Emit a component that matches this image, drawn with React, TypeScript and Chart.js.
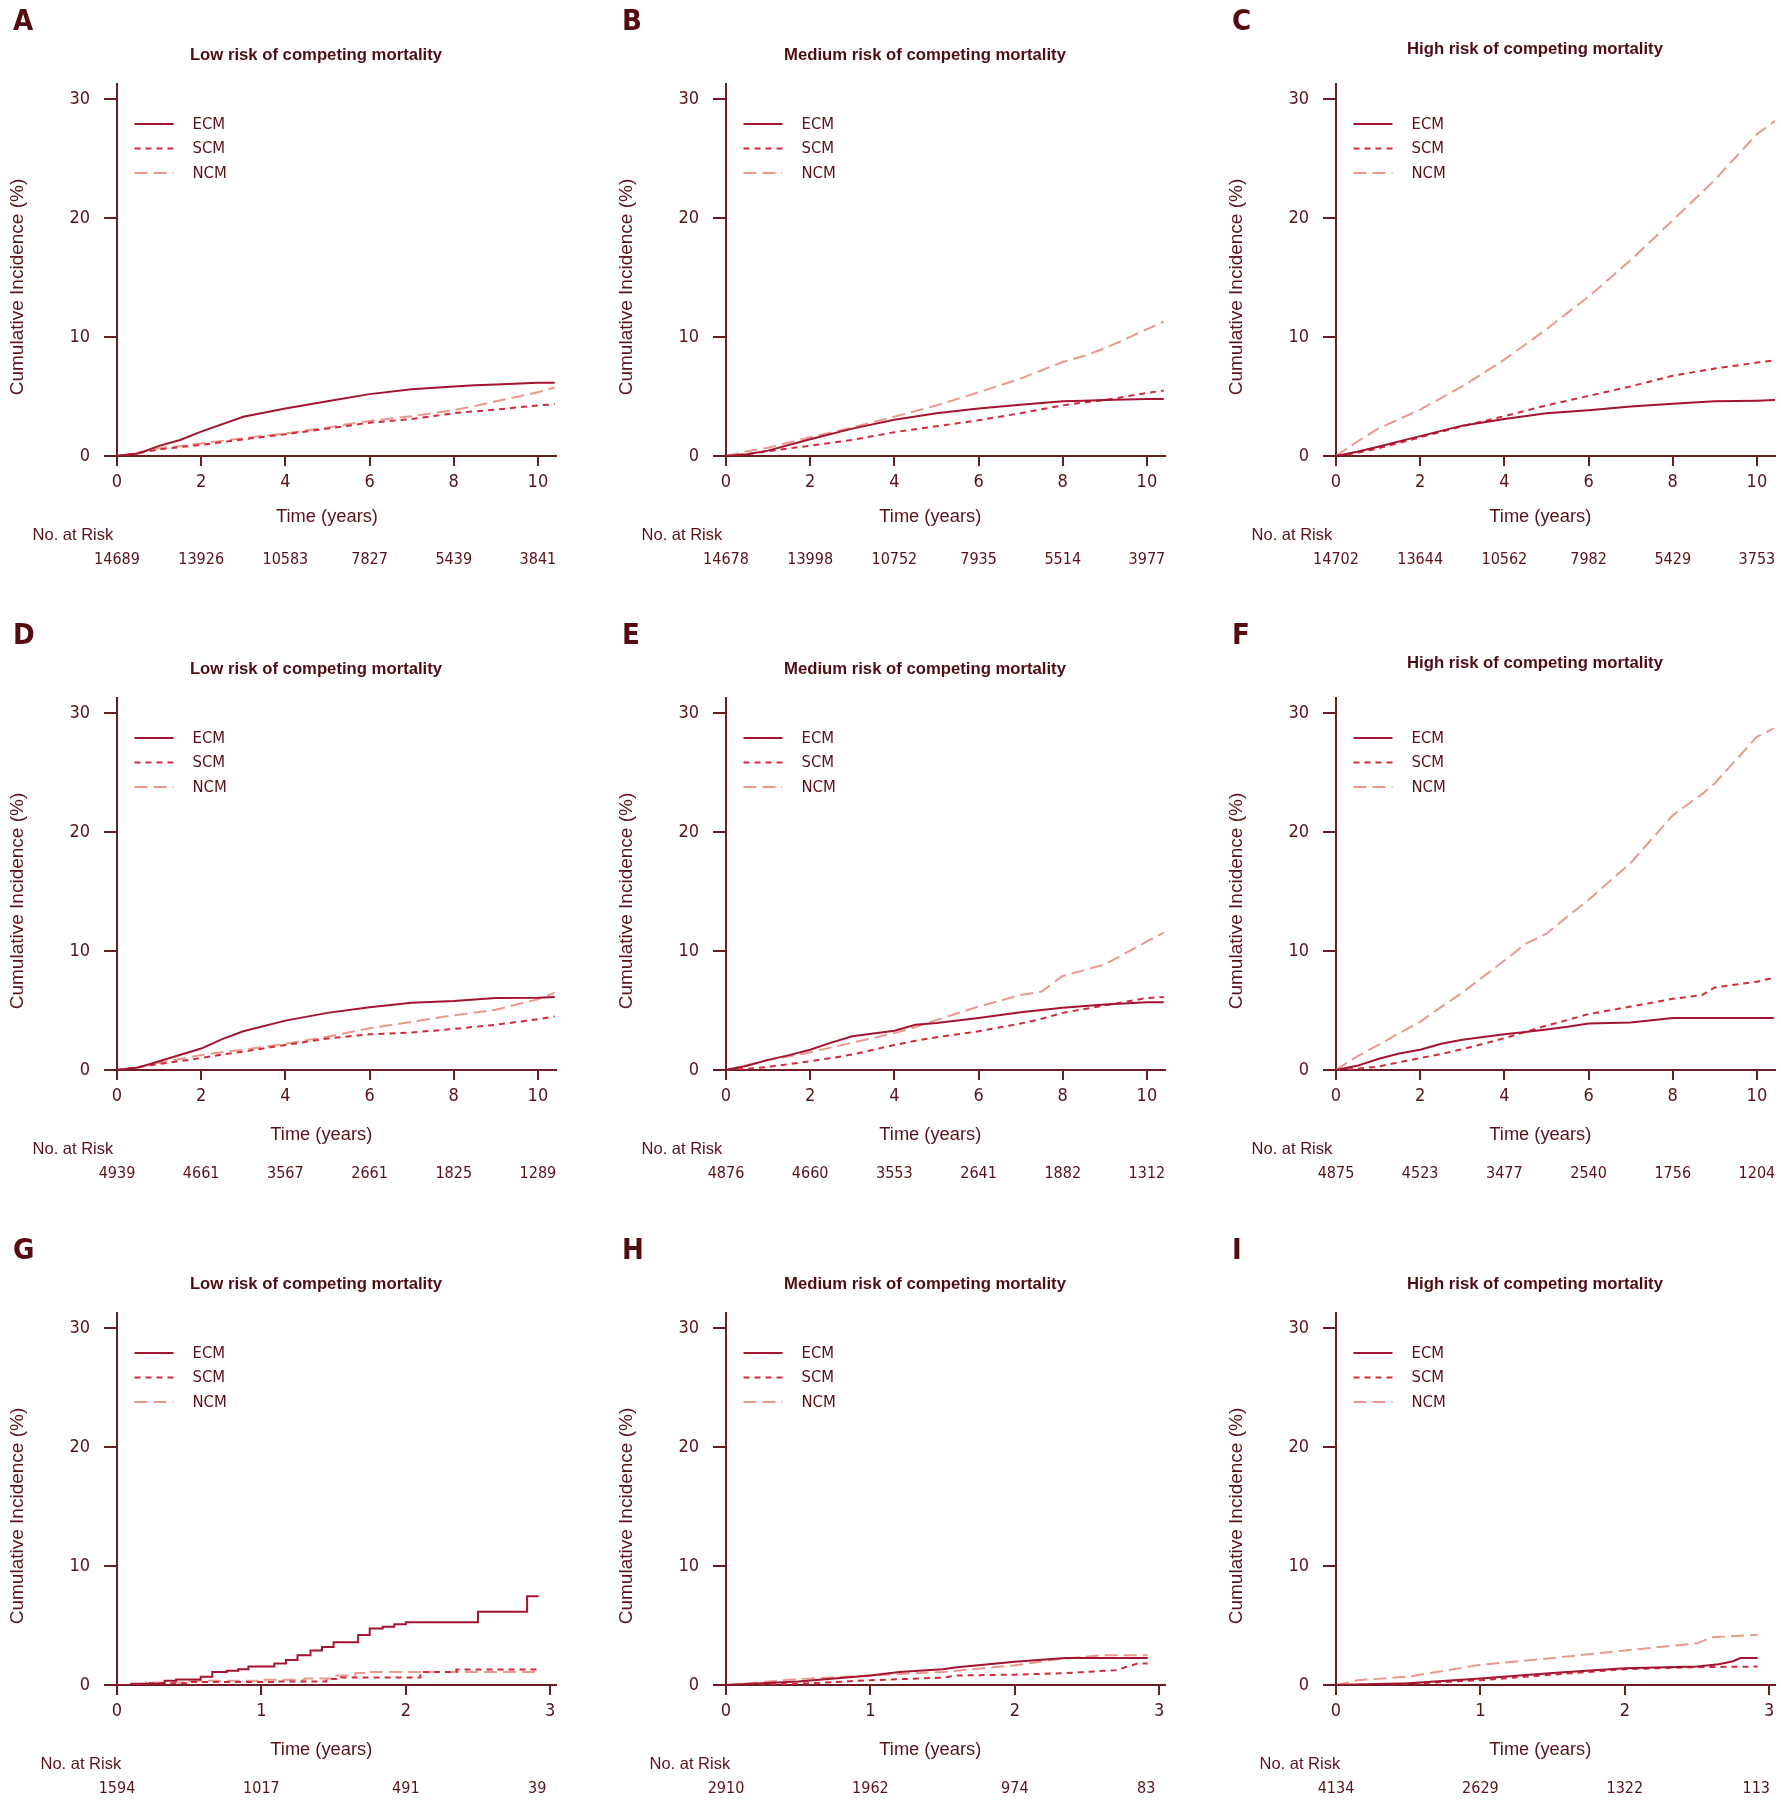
import React, { useEffect, useRef } from "react";
import { Chart, registerables } from "chart.js";

Chart.register(...registerables);

const NARROW = "'Liberation Sans Narrow', 'DejaVu Sans Condensed', 'Liberation Sans', sans-serif";
const SANS = "'Liberation Sans', Arial, sans-serif";
const TEXT = "#5a1117";
const AXIS = "#6b1d22";
const C_ECM = "#a3142e";
const C_SCM = "#d32a3a";
const C_NCM = "#e99a8c";

const SERIES_NAMES = ["ECM", "SCM", "NCM"];
const PANEL_LETTERS = ["A", "B", "C", "D", "E", "F", "G", "H", "I"];
const PANEL_TITLES = ["Low risk of competing mortality", "Medium risk of competing mortality", "High risk of competing mortality"];

const RISK_TIMES_10Y = [0, 2, 4, 6, 8, 10];
const RISK_TIMES_3Y = [0, 1, 2, 2.91];

// Panel A
const A_T = [0, 0.5, 1, 1.5, 2, 3, 4, 5, 6, 7, 8, 8.5, 9, 10, 10.4];
const A_ECM = [0, 0.2, 0.85, 1.35, 2.05, 3.3, 4.0, 4.6, 5.2, 5.6, 5.85, 5.95, 6.0, 6.15, 6.15];
const A_SCM = [0, 0.25, 0.55, 0.75, 0.93, 1.4, 1.83, 2.3, 2.8, 3.1, 3.6, 3.75, 3.9, 4.25, 4.35];
const A_NCM = [0, 0.3, 0.65, 0.85, 1.05, 1.5, 1.9, 2.4, 2.95, 3.35, 3.85, 4.2, 4.6, 5.35, 5.75];
const A_RISK = [14689, 13926, 10583, 7827, 5439, 3841];

// Panel B
const B_T = [0, 0.5, 1, 2, 3, 4, 5, 6, 7, 8, 8.5, 9, 10, 10.4];
const B_ECM = [0, 0.15, 0.45, 1.4, 2.3, 3.05, 3.6, 4.0, 4.3, 4.6, 4.65, 4.7, 4.8, 4.8];
const B_SCM = [0, 0.15, 0.4, 0.87, 1.35, 2.0, 2.5, 3.0, 3.6, 4.25, 4.5, 4.7, 5.3, 5.5];
const B_NCM = [0, 0.4, 0.7, 1.57, 2.4, 3.3, 4.25, 5.35, 6.5, 7.9, 8.4, 9.05, 10.65, 11.3];
const B_RISK = [14678, 13998, 10752, 7935, 5514, 3977];

// Panel C
const C_T = [0, 0.5, 1, 2, 3, 4, 5, 6, 7, 8, 9, 10, 10.45];
const C_ECM_V = [0, 0.35, 0.77, 1.67, 2.55, 3.1, 3.6, 3.85, 4.15, 4.4, 4.6, 4.65, 4.7];
const C_SCM_V = [0, 0.25, 0.64, 1.57, 2.5, 3.35, 4.25, 5.05, 5.85, 6.75, 7.35, 7.85, 8.05];
const C_NCM_V = [0, 1.2, 2.3, 3.9, 5.85, 8.1, 10.65, 13.4, 16.45, 19.8, 23.2, 27.05, 28.2];
const C_RISK = [14702, 13644, 10562, 7982, 5429, 3753];

// Panel D
const D_T = [0, 0.5, 1, 2, 2.5, 3, 4, 5, 6, 7, 8, 9, 10, 10.4];
const D_ECM = [0, 0.2, 0.74, 1.8, 2.6, 3.25, 4.15, 4.8, 5.27, 5.65, 5.8, 6.05, 6.07, 6.13];
const D_SCM = [0, 0.25, 0.5, 1.0, 1.3, 1.55, 2.1, 2.65, 3.0, 3.15, 3.45, 3.8, 4.27, 4.5];
const D_NCM = [0, 0.25, 0.6, 1.25, 1.5, 1.7, 2.2, 2.8, 3.5, 4.05, 4.6, 5.07, 5.95, 6.5];
const D_RISK = [4939, 4661, 3567, 2661, 1825, 1289];

// Panel E
const E_T = [0, 0.5, 1, 1.5, 2, 2.5, 3, 4, 4.5, 5, 6, 7, 7.5, 8, 9, 10, 10.4];
const E_ECM = [0, 0.35, 0.85, 1.25, 1.7, 2.3, 2.83, 3.3, 3.8, 3.95, 4.37, 4.85, 5.05, 5.24, 5.5, 5.7, 5.7];
const E_SCM = [0, 0.1, 0.26, 0.5, 0.74, 1.0, 1.3, 2.1, 2.45, 2.76, 3.25, 3.9, 4.3, 4.8, 5.43, 6.05, 6.13];
const E_NCM = [0, 0.42, 0.83, 1.15, 1.48, 1.9, 2.3, 3.1, 3.6, 4.2, 5.33, 6.3, 6.6, 7.9, 8.87, 10.8, 11.55];
const E_RISK = [4876, 4660, 3553, 2641, 1882, 1312];

// Panel F
const F_T = [0, 0.5, 1, 1.5, 2, 2.5, 3, 4, 4.5, 5, 5.5, 6, 7, 8, 8.7, 9, 10, 10.4];
const F_ECM = [0, 0.35, 0.93, 1.38, 1.7, 2.2, 2.54, 3.0, 3.2, 3.4, 3.63, 3.9, 4.0, 4.37, 4.37, 4.37, 4.37, 4.37];
const F_SCM = [0, 0.1, 0.29, 0.65, 1.0, 1.35, 1.74, 2.67, 3.2, 3.73, 4.2, 4.7, 5.33, 5.98, 6.3, 6.94, 7.42, 7.75];
const F_NCM = [0, 1.15, 2.1, 3.1, 4.05, 5.3, 6.5, 9.2, 10.6, 11.45, 12.9, 14.3, 17.4, 21.4, 23.2, 24.1, 28.0, 28.7];
const F_RISK = [4875, 4523, 3477, 2540, 1756, 1204];

// Panel G
const G_ECM_T = [0, 0.1, 0.33, 0.41, 0.58, 0.66, 0.76, 0.84, 0.91, 1.09, 1.17, 1.25, 1.34, 1.42, 1.5, 1.67, 1.75, 1.84, 1.92, 2.0, 2.5, 2.84, 2.92];
const G_ECM = [0, 0.1, 0.35, 0.47, 0.7, 1.1, 1.2, 1.33, 1.55, 1.8, 2.1, 2.5, 2.9, 3.2, 3.6, 4.2, 4.75, 4.9, 5.1, 5.28, 6.15, 7.45, 7.45];
const G_SCM_T = [0, 0.2, 0.5, 1.1, 1.45, 1.55, 2.1, 2.35, 2.92];
const G_SCM = [0, 0.15, 0.25, 0.3, 0.5, 0.62, 1.1, 1.3, 1.3];
const G_NCM_T = [0, 0.2, 0.5, 1.0, 1.3, 1.5, 1.65, 1.75, 2.92];
const G_NCM = [0, 0.2, 0.35, 0.45, 0.55, 0.8, 1.0, 1.1, 1.1];
const G_RISK = [1594, 1017, 491, 39];

// Panel H
const H_ECM_T = [0, 0.5, 1.0, 1.2, 1.5, 1.6, 2.0, 2.35, 2.92];
const H_ECM = [0, 0.3, 0.8, 1.1, 1.33, 1.5, 1.95, 2.27, 2.27];
const H_SCM_T = [0, 0.5, 1.0, 1.5, 1.6, 2.0, 2.35, 2.7, 2.85, 2.92];
const H_SCM = [0, 0.1, 0.4, 0.62, 0.8, 0.87, 1.0, 1.25, 1.8, 1.8];
const H_NCM_T = [0, 0.5, 1.0, 1.5, 2.0, 2.3, 2.6, 2.92];
const H_NCM = [0, 0.5, 0.8, 1.1, 1.65, 2.17, 2.5, 2.5];
const H_RISK = [2910, 1962, 974, 83];

// Panel I
const I_ECM_T = [0, 0.5, 1.0, 1.5, 2.0, 2.5, 2.65, 2.75, 2.8, 2.92];
const I_ECM = [0, 0.15, 0.55, 1.0, 1.4, 1.55, 1.75, 2.0, 2.27, 2.27];
const I_SCM_T = [0, 0.5, 1.0, 1.5, 2.0, 2.5, 2.92];
const I_SCM = [0, 0.1, 0.4, 0.87, 1.33, 1.5, 1.55];
const I_NCM_T = [0, 0.15, 0.5, 1.0, 1.5, 2.0, 2.5, 2.6, 2.92];
const I_NCM = [0, 0.4, 0.7, 1.7, 2.27, 2.9, 3.5, 4.0, 4.22];
const I_RISK = [4134, 2629, 1322, 113];

type Curve = { t: number[]; v: number[]; stepped?: boolean };
type PanelDef = { curves: Curve[]; risk: number[]; long: boolean };

const PANELS: PanelDef[] = [
  { curves: [{ t: A_T, v: A_ECM }, { t: A_T, v: A_SCM }, { t: A_T, v: A_NCM }], risk: A_RISK, long: true },
  { curves: [{ t: B_T, v: B_ECM }, { t: B_T, v: B_SCM }, { t: B_T, v: B_NCM }], risk: B_RISK, long: true },
  { curves: [{ t: C_T, v: C_ECM_V }, { t: C_T, v: C_SCM_V }, { t: C_T, v: C_NCM_V }], risk: C_RISK, long: true },
  { curves: [{ t: D_T, v: D_ECM }, { t: D_T, v: D_SCM }, { t: D_T, v: D_NCM }], risk: D_RISK, long: true },
  { curves: [{ t: E_T, v: E_ECM }, { t: E_T, v: E_SCM }, { t: E_T, v: E_NCM }], risk: E_RISK, long: true },
  { curves: [{ t: F_T, v: F_ECM }, { t: F_T, v: F_SCM }, { t: F_T, v: F_NCM }], risk: F_RISK, long: true },
  { curves: [{ t: G_ECM_T, v: G_ECM, stepped: true }, { t: G_SCM_T, v: G_SCM, stepped: true }, { t: G_NCM_T, v: G_NCM, stepped: true }], risk: G_RISK, long: false },
  { curves: [{ t: H_ECM_T, v: H_ECM }, { t: H_SCM_T, v: H_SCM }, { t: H_NCM_T, v: H_NCM }], risk: H_RISK, long: false },
  { curves: [{ t: I_ECM_T, v: I_ECM }, { t: I_SCM_T, v: I_SCM }, { t: I_NCM_T, v: I_NCM }], risk: I_RISK, long: false },
];

const COLORS = [C_ECM, C_SCM, C_NCM];
const DASHES = [[], [6, 5], [13, 6]];

// layout (page pixels)
const AXIS_X = [117, 726, 1336];
const ZERO_Y = [456, 1070, 1685];
const CANVAS_W = 610;
const CANVAS_H = 615;
const AREA_LEFT = 117;
const AREA_TOP = 84;
const AREA_BOTTOM = 456;
const AREA_RIGHT = 556;
const X_AXIS_H = 40;

const legendPlugin = {
  id: "kmLegend",
  afterDraw(chart: any) {
    const { ctx, chartArea } = chart;
    chart.data.datasets.forEach((ds: any, i: number) => {
      const y = chartArea.top + 40 + i * 24.5;
      ctx.save();
      ctx.strokeStyle = ds.borderColor;
      ctx.lineWidth = 2;
      ctx.setLineDash(ds.borderDash || []);
      ctx.beginPath();
      ctx.moveTo(chartArea.left + 17.5, y);
      ctx.lineTo(chartArea.left + 56.5, y);
      ctx.stroke();
      ctx.setLineDash([]);
      ctx.fillStyle = TEXT;
      ctx.font = `16.5px ${NARROW}`;
      ctx.textBaseline = "middle";
      ctx.textAlign = "left";
      ctx.fillText(ds.label, chartArea.left + 75.5, y + 0.5);
      ctx.restore();
    });
  },
};

const riskPlugin = {
  id: "riskTable",
  afterDraw(chart: any, _args: any, opts: any) {
    const { ctx, chartArea } = chart;
    const xs = chart.scales.x;
    const values: number[] = opts.values || [];
    const times: number[] = opts.times || [];
    ctx.save();
    ctx.fillStyle = TEXT;
    ctx.font = `16px ${NARROW}`;
    ctx.textAlign = "center";
    ctx.textBaseline = "middle";
    values.forEach((n, i) => {
      ctx.fillText(String(n), xs.getPixelForValue(times[i]), chartArea.bottom + 104.3);
    });
    ctx.restore();
  },
};

function makeConfig(p: PanelDef): any {
  const datasets = p.curves.map((c, i) => ({
    label: SERIES_NAMES[i],
    data: c.t.map((t, k) => ({ x: t, y: c.v[k] })),
    borderColor: COLORS[i],
    backgroundColor: COLORS[i],
    borderWidth: 2,
    borderDash: DASHES[i],
    pointRadius: 0,
    tension: 0,
    fill: false,
    stepped: c.stepped ? "before" : false,
  }));
  const gridX = { display: true, drawOnChartArea: false, drawTicks: true, tickLength: 10, color: AXIS, lineWidth: 2 };
  const gridY = { display: true, drawOnChartArea: false, drawTicks: true, tickLength: 13, color: AXIS, lineWidth: 2 };
  return {
    type: "line",
    data: { datasets },
    options: {
      animation: false,
      responsive: false,
      events: [],
      layout: {
        padding: {
          left: 0,
          top: AREA_TOP,
          right: CANVAS_W - AREA_RIGHT,
          bottom: CANVAS_H - AREA_BOTTOM - X_AXIS_H,
        },
      },
      plugins: {
        legend: { display: false },
        title: { display: false },
        tooltip: { enabled: false },
        riskTable: { values: p.risk, times: p.long ? RISK_TIMES_10Y : RISK_TIMES_3Y },
      },
      scales: {
        x: {
          type: "linear",
          min: 0,
          max: p.long ? 10.43 : 3.04,
          afterFit: (s: any) => {
            s.height = X_AXIS_H;
          },
          ticks: {
            stepSize: p.long ? 2 : 1,
            includeBounds: false,
            autoSkip: false,
            maxRotation: 0,
            padding: 6,
            color: TEXT,
            font: { family: NARROW, size: 18 },
          },
          grid: gridX,
          border: { display: true, color: AXIS, width: 2 },
        },
        y: {
          type: "linear",
          min: 0,
          max: 31.26,
          afterFit: (s: any) => {
            s.width = AREA_LEFT;
          },
          ticks: {
            stepSize: 10,
            includeBounds: false,
            padding: 14,
            color: TEXT,
            font: { family: NARROW, size: 18 },
          },
          grid: gridY,
          border: { display: true, color: AXIS, width: 2 },
        },
      },
    },
    plugins: [legendPlugin, riskPlugin],
  };
}

function Panel({ index }: { index: number }) {
  const ref = useRef<HTMLCanvasElement | null>(null);
  const col = index % 3;
  const row = Math.floor(index / 3);
  const ax = AXIS_X[col];
  const zy = ZERO_Y[row];
  const p = PANELS[index];

  useEffect(() => {
    if (!ref.current) return;
    const chart = new Chart(ref.current, makeConfig(p));
    return () => chart.destroy();
  }, []);

  const titleDy = col === 2 && row < 2 ? -407 : -401;
  const xTitleDx = index === 0 ? 210 : 204.3;
  const xTitleDy = row === 0 ? 59.6 : 64;
  const riskLabelDx = row === 2 ? -76.5 : -84.4;

  const abs: React.CSSProperties = { position: "absolute", whiteSpace: "nowrap", color: TEXT, lineHeight: 1 };

  return (
    <>
      <canvas
        ref={ref}
        width={CANVAS_W}
        height={CANVAS_H}
        style={{ position: "absolute", left: ax - AREA_LEFT, top: zy - AREA_BOTTOM, width: CANVAS_W, height: CANVAS_H }}
      />
      <div style={{ ...abs, left: ax - 104, top: zy - 436, transform: "translateY(-50%)", fontFamily: NARROW, fontWeight: 700, fontSize: 29, color: "#560b10" }}>
        {PANEL_LETTERS[index]}
      </div>
      <div style={{ ...abs, left: ax + 199, top: zy + titleDy, transform: "translate(-50%,-50%)", fontFamily: SANS, fontWeight: 700, fontSize: 16.7, color: "#4e0c12" }}>
        {PANEL_TITLES[col]}
      </div>
      <div style={{ ...abs, left: ax - 101.4, top: zy - 169.2, transform: "translate(-50%,-50%) rotate(-90deg)", fontFamily: SANS, fontSize: 19 }}>
        Cumulative Incidence (%)
      </div>
      <div style={{ ...abs, left: ax + xTitleDx, top: zy + xTitleDy, transform: "translate(-50%,-50%)", fontFamily: SANS, fontSize: 18.3 }}>
        Time (years)
      </div>
      <div style={{ ...abs, left: ax + riskLabelDx, top: zy + 78.4, transform: "translateY(-50%)", fontFamily: SANS, fontSize: 16.5 }}>
        No. at Risk
      </div>
    </>
  );
}

export default function App() {
  return (
    <div style={{ position: "absolute", left: 0, top: 0, width: 1781, height: 1800, overflow: "hidden", background: "#ffffff" }}>
      {PANELS.map((_, i) => (
        <Panel key={i} index={i} />
      ))}
    </div>
  );
}
